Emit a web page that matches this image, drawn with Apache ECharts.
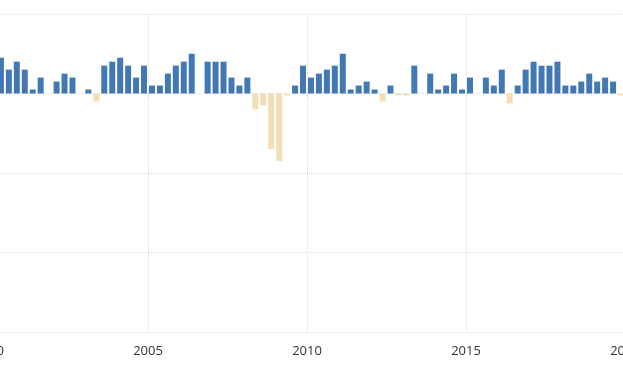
<!DOCTYPE html>
<html>
<head>
<meta charset="utf-8">
<script src="https://cdn.jsdelivr.net/npm/echarts@6/dist/echarts.min.js"></script>
<style>
html, body { margin: 0; padding: 0; width: 623px; height: 380px; overflow: hidden; background: #fff; }
#chart { position: absolute; left: -40px; top: 0; width: 703px; height: 380px; }
</style>
</head>
<body>
<div id="chart"></div>
<script>
// Quarterly values (percent)
const quarters = [
  "2000Q2","2000Q3","2000Q4",
  "2001Q1","2001Q2","2001Q3","2001Q4",
  "2002Q1","2002Q2","2002Q3","2002Q4",
  "2003Q1","2003Q2","2003Q3","2003Q4",
  "2004Q1","2004Q2","2004Q3","2004Q4",
  "2005Q1","2005Q2","2005Q3","2005Q4",
  "2006Q1","2006Q2","2006Q3","2006Q4",
  "2007Q1","2007Q2","2007Q3","2007Q4",
  "2008Q1","2008Q2","2008Q3","2008Q4",
  "2009Q1","2009Q2","2009Q3","2009Q4",
  "2010Q1","2010Q2","2010Q3","2010Q4",
  "2011Q1","2011Q2","2011Q3","2011Q4",
  "2012Q1","2012Q2","2012Q3","2012Q4",
  "2013Q1","2013Q2","2013Q3","2013Q4",
  "2014Q1","2014Q2","2014Q3","2014Q4",
  "2015Q1","2015Q2","2015Q3","2015Q4",
  "2016Q1","2016Q2","2016Q3","2016Q4",
  "2017Q1","2017Q2","2017Q3","2017Q4",
  "2018Q1","2018Q2","2018Q3","2018Q4",
  "2019Q1","2019Q2","2019Q3","2019Q4"
];
const values = [
  0.9, 0.6, 0.8,
  0.6, 0.1, 0.4, 0,
  0.3, 0.5, 0.4, 0,
  0.1, -0.2, 0.7, 0.8,
  0.9, 0.7, 0.4, 0.7,
  0.2, 0.2, 0.5, 0.7,
  0.8, 1.0, 0, 0.8,
  0.8, 0.8, 0.4, 0.2,
  0.4, -0.4, -0.3, -1.4,
  -1.7, -0.05, 0.2, 0.7,
  0.4, 0.5, 0.6, 0.7,
  1.0, 0.1, 0.2, 0.3,
  0.1, -0.2, 0.2, -0.05,
  -0.05, 0.7, 0, 0.5,
  0.1, 0.2, 0.5, 0.1,
  0.4, 0, 0.4, 0.2,
  0.6, -0.25, 0.2, 0.6,
  0.8, 0.7, 0.7, 0.8,
  0.2, 0.2, 0.3, 0.5,
  0.3, 0.4, 0.3, -0.05
];
const yearTicks = [2000, 2005, 2010, 2015, 2020];

const POS = '#4279b4', NEG = '#f3deb6';

function quarterToX(q) {
  const y = parseInt(q.slice(0, 4), 10);
  const n = parseInt(q.slice(5), 10);
  return y + (n - 0.5) / 4;
}

const seriesData = quarters.map((q, i) => ({
  value: [quarterToX(q), values[i]],
  itemStyle: { color: values[i] < 0 ? NEG : POS }
}));

const chart = echarts.init(document.getElementById('chart'), null, { renderer: 'canvas' });
chart.setOption({
  animation: false,
  grid: { left: 29, right: 38, top: 14, bottom: 48, containLabel: false },
  xAxis: {
    type: 'value',
    min: yearTicks[0],
    max: yearTicks[yearTicks.length - 1],
    interval: 5,
    axisLine: { show: false },
    axisTick: { show: true, length: 4, lineStyle: { color: '#d6d6d6' } },
    axisLabel: {
      color: '#333',
      fontSize: 13,
      fontFamily: 'Open Sans, sans-serif',
      margin: 13,
      formatter: v => String(v)
    },
    splitLine: { show: true, lineStyle: { color: '#dcdcdc', type: 'dotted', width: 1 } }
  },
  yAxis: {
    type: 'value',
    min: -6,
    max: 2,
    interval: 2,
    axisLabel: { show: false },
    axisLine: { show: false },
    axisTick: { show: false },
    splitLine: { show: true, lineStyle: { color: '#dcdcdc', type: 'dotted', width: 1 } }
  },
  series: [{
    type: 'bar',
    data: seriesData,
    barWidth: 6
  }]
});
</script>
</body>
</html>
